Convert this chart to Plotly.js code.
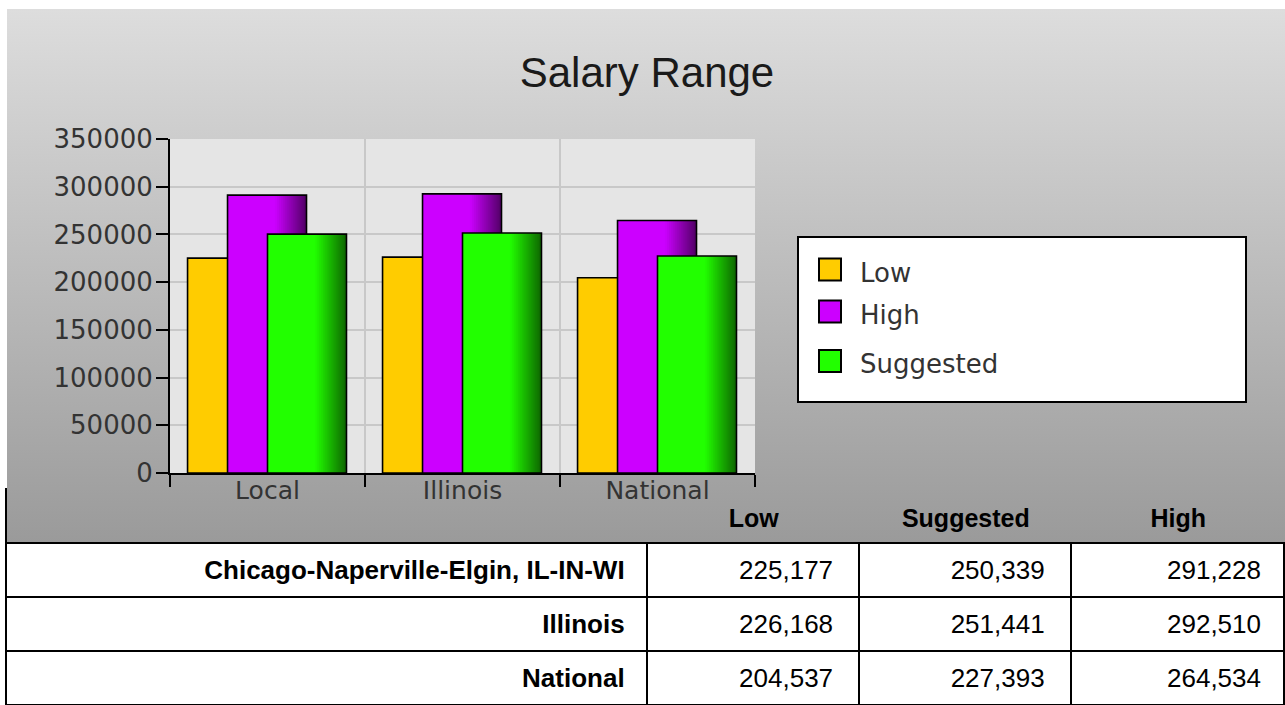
<!DOCTYPE html>
<html>
<head>
<meta charset="utf-8">
<script src="https://cdn.plot.ly/plotly-3.0.1.min.js"></script>
<style>
  html, body { margin:0; padding:0; background:#ffffff; width:1285px; height:705px; overflow:hidden; }
  #bg { position:absolute; left:7px; top:9px; width:1278px; height:535px; background:linear-gradient(#dddddd, #9a9a9a); }
  #chart { position:absolute; left:0; top:0; width:1285px; height:540px; }
  #tbl { position:absolute; left:5px; top:488px; border-collapse:separate; border-spacing:0; table-layout:fixed;
         font-family:"Liberation Sans", Arial, sans-serif; font-size:26px; color:#000; }
  #tbl td, #tbl th { box-sizing:border-box; padding:0; overflow:hidden; white-space:nowrap; }
  #tbl th { height:56px; border-bottom:2px solid #000; text-align:center; vertical-align:bottom; padding-bottom:9px; font-weight:bold; font-size:25px; background:transparent; }
  #tbl td { height:54px; border-bottom:2px solid #000; border-right:2px solid #000; text-align:right; vertical-align:middle; background:#fff; padding-right:25px; }
  #tbl td.lab { font-weight:bold; padding-right:21px; }
  #tbl td.last { padding-right:22px; }
  #tbl .first { border-left:2px solid #000; }
</style>
</head>
<body>
<div id="bg"></div>
<div id="chart"></div>
<table id="tbl"><thead></thead><tbody></tbody></table>
<script>
// ---- data ----
const categories = ['Local', 'Illinois', 'National'];
const seriesNames = ['Low', 'High', 'Suggested'];
const lowValues = [225177, 226168, 204537];
const highValues = [291228, 292510, 264534];
const suggestedValues = [250339, 251441, 227393];
const yTickValues = [0, 50000, 100000, 150000, 200000, 250000, 300000, 350000];
const tableRowLabels = ['Chicago-Naperville-Elgin, IL-IN-WI', 'Illinois', 'National'];
const tableColumnLabels = ['Low', 'Suggested', 'High'];

// ---- styles ----
const seriesColors = ['#ffcc00', '#cc00ff', '#22ff00'];
const seriesOffsets = [-0.41, -0.205, 0.0];
const barWidth = 0.405;

function shade(hex, f) {
  const r = parseInt(hex.slice(1,3),16), g = parseInt(hex.slice(3,5),16), b = parseInt(hex.slice(5,7),16);
  return 'rgb(' + Math.round(r*f) + ',' + Math.round(g*f) + ',' + Math.round(b*f) + ')';
}

function seriesTraces(name, values, color, offset, width) {
  const out = [];
  const flat = 0.6, n = 16;
  out.push({ type:'bar', x:categories, y:values, offset:offset, width:width*flat + 0.004,
             marker:{ color:color, line:{ width:0 } }, showlegend:false, hoverinfo:'skip' });
  const sw = width*(1-flat)/n;
  for (let i = 0; i < n; i++) {
    const f = 1 - 0.6*((i+0.5)/n);
    out.push({ type:'bar', x:categories, y:values, offset:offset + width*flat + i*sw,
               width: (i < n-1) ? sw + 0.003 : sw,
               marker:{ color:shade(color, f), line:{ width:0 } }, showlegend:false, hoverinfo:'skip' });
  }
  out.push({ type:'bar', name:name, x:categories, y:values, offset:offset, width:width,
             marker:{ color:'rgba(0,0,0,0)', line:{ color:'#000000', width:1.6 } },
             showlegend:false, hovertemplate:'%{x}: %{y}<extra>' + name + '</extra>' });
  return out;
}

const seriesValues = [lowValues, highValues, suggestedValues];
let traces = [];
for (let s = 0; s < seriesNames.length; s++) {
  traces = traces.concat(seriesTraces(seriesNames[s], seriesValues[s], seriesColors[s], seriesOffsets[s], barWidth));
}

// ---- geometry helpers (page px -> paper) ----
const W = 1285, H = 540, ML = 170, MR = 530, MT = 139, MB = 67;
const PW = W - ML - MR, PH = H - MT - MB;
const px2x = p => (p - ML) / PW;
const py2y = p => (H - MB - p) / PH;

const shapes = [{
  type:'rect', xref:'paper', yref:'paper',
  x0:px2x(798), x1:px2x(1246), y0:py2y(402), y1:py2y(237),
  fillcolor:'#ffffff', line:{ color:'#000000', width:2 }, layer:'above'
}];
const annotations = [];
const legendCenters = [269.5, 311.5, 361];
for (let s = 0; s < seriesNames.length; s++) {
  shapes.push({
    type:'rect', xref:'paper', yref:'paper', xsizemode:'pixel', ysizemode:'pixel',
    xanchor:px2x(830), yanchor:py2y(legendCenters[s]), x0:-11, x1:11, y0:-11, y1:11,
    fillcolor:seriesColors[s], line:{ color:'#000000', width:2 }, layer:'above'
  });
  annotations.push({
    xref:'paper', yref:'paper', x:px2x(858), y:py2y(legendCenters[s] + 3),
    xanchor:'left', yanchor:'middle', showarrow:false, text:seriesNames[s],
    font:{ family:'DejaVu Sans, Verdana, sans-serif', size:26, color:'#333333' }
  });
}

const layout = {
  width:W, height:H,
  margin:{ l:ML, r:MR, t:MT, b:MB, pad:0 },
  paper_bgcolor:'rgba(0,0,0,0)',
  plot_bgcolor:'#e5e5e5',
  barmode:'overlay',
  showlegend:false,
  title:{ text:'Salary Range', xref:'container', yref:'container', x:647/W, xanchor:'center',
          y:1 - 72/H, yanchor:'middle',
          font:{ family:'Liberation Sans, Arial, sans-serif', size:42, color:'#1a1a1a' } },
  xaxis:{ type:'category', range:[-0.5, 2.5], tickson:'boundaries', ticks:'outside', ticklen:12, tickwidth:2,
          tickcolor:'#000000', showline:true, linecolor:'#000000', linewidth:2, showgrid:true,
          gridcolor:'#c8c8c8', gridwidth:1.5, ticklabelstandoff:-6,
          tickfont:{ family:'DejaVu Sans, Verdana, sans-serif', size:25, color:'#333333' }, fixedrange:true },
  yaxis:{ range:[0, 350000], tickvals:yTickValues, ticktext:yTickValues.map(v => String(v)),
          ticks:'outside', ticklen:12, tickwidth:2, tickcolor:'#000000', showline:true, linecolor:'#000000',
          linewidth:2, showgrid:true, gridcolor:'#c8c8c8', gridwidth:1.5, zeroline:false, ticklabelstandoff:-2,
          tickfont:{ family:'DejaVu Sans, Verdana, sans-serif', size:26, color:'#333333' }, fixedrange:true },
  shapes:shapes,
  annotations:annotations
};

Plotly.newPlot('chart', traces, layout, { displayModeBar:false, staticPlot:false });

// ---- table ----
const colWidths = [646, 214, 213, 215];
const thead = document.querySelector('#tbl thead');
const hr = document.createElement('tr');
['', ...tableColumnLabels].forEach((t, i) => {
  const th = document.createElement('th');
  th.textContent = t;
  th.style.width = colWidths[i] + 'px';
  if (i === 0) th.className = 'first';
  hr.appendChild(th);
});
thead.appendChild(hr);
const tableSeries = [lowValues, suggestedValues, highValues];
const tbody = document.querySelector('#tbl tbody');
tableRowLabels.forEach((lab, r) => {
  const tr = document.createElement('tr');
  const td0 = document.createElement('td');
  td0.textContent = lab; td0.className = 'lab first';
  tr.appendChild(td0);
  tableSeries.forEach((vals, c) => {
    const td = document.createElement('td');
    td.textContent = vals[r].toLocaleString('en-US');
    if (c === tableSeries.length - 1) td.className = 'last';
    tr.appendChild(td);
  });
  tbody.appendChild(tr);
});
</script>
</body>
</html>
